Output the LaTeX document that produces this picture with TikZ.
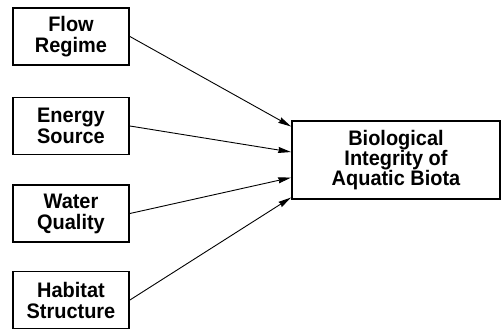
\documentclass[tikz,border=0pt]{standalone}
\usepackage{fontspec}
\setmainfont[FakeStretch=0.95]{Liberation Sans}
\usetikzlibrary{arrows.meta,calc}
\begin{document}
\begin{tikzpicture}[x=1pt,y=-1pt,
  factor/.style={draw,line width=1.8pt,minimum width=116pt,minimum height=57pt,inner sep=0pt,align=center,
    font=\fontsize{21}{21}\selectfont\bfseries},
  target/.style={draw,line width=1.8pt,minimum width=208pt,minimum height=78pt,inner sep=0pt,align=center,
    font=\fontsize{21}{20}\selectfont\bfseries},
  link/.style={line width=0.9pt,-{Stealth[length=13pt,width=6pt,inset=1pt]}}]
\useasboundingbox (0,0) rectangle (502,329);
\node[factor] (flow) at (71,36.5) {Flow\\Regime};
\node[factor] (energy) at (71,126) {Energy\\Source};
\node[factor] (water) at (71,213.5) {Water\\Quality};
\node[factor] (habitat) at (71,300) {Habitat\\Structure};
\node[target] (bio) at (396,160) {\raisebox{-2pt}{\parbox{200pt}{\centering Biological\\Integrity of\\Aquatic Biota}}};
\coordinate (e1) at ($(bio.north west)!0.08!(bio.south west)$);
\coordinate (e2) at ($(bio.north west)!0.40!(bio.south west)$);
\coordinate (e3) at ($(bio.north west)!0.72!(bio.south west)$);
\coordinate (e4) at ($(bio.north west)!0.97!(bio.south west)$);
\draw[link] (flow.east) -- (e1);
\draw[link] (energy.east) -- (e2);
\draw[link] (water.east) -- (e3);
\draw[link] (habitat.east) -- (e4);
\end{tikzpicture}
\end{document}
